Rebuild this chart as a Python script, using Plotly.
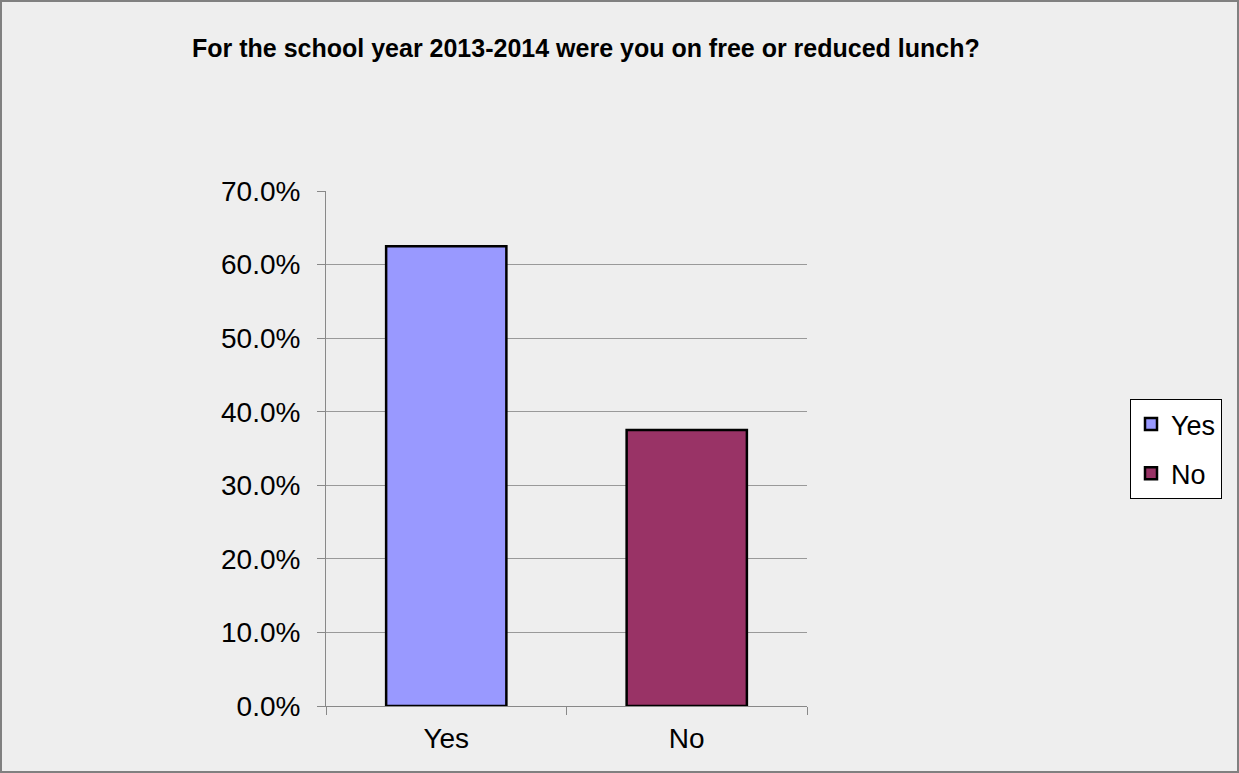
import plotly.graph_objects as go

categories = ["Yes", "No"]
shares = [0.625, 0.375]
colors = ["#9999FF", "#993366"]
y_ticks = [0.0, 0.1, 0.2, 0.3, 0.4, 0.5, 0.6, 0.7]

W, H = 1239, 773
L, R, T, B = 326, 807, 191, 706
PW, PH = R - L, B - T

fig = go.Figure()
for cat, val, col in zip(categories, shares, colors):
    fig.add_trace(go.Bar(
        x=[cat], y=[val], name=cat, width=0.5,
        marker=dict(color=col, line=dict(color="black", width=2.5)),
        legendgroup=cat,
    ))

font = "Liberation Sans, Arial, sans-serif"
fig.update_layout(
    width=W, height=H,
    margin=dict(l=L, r=W - R, t=T, b=H - B, pad=0),
    paper_bgcolor="#EEEEEE", plot_bgcolor="#EEEEEE",
    barmode="overlay",
    font=dict(family=font, size=28, color="black"),
    showlegend=True,
    legend=dict(
        x=(1130 - L) / PW, xanchor="left",
        y=(B - 399) / PH, yanchor="top",
        bgcolor="white", bordercolor="black", borderwidth=1,
        font=dict(size=27), traceorder="grouped", tracegroupgap=11,
        itemwidth=30,
    ),
    xaxis=dict(
        showline=True, linecolor="#888888", linewidth=1,
        ticks="outside", tickson="boundaries", ticklen=8, tickcolor="#888888",
        ticklabelstandoff=7,
        showgrid=False, tickfont=dict(size=28),
    ),
    yaxis=dict(
        range=[0, 0.7], tickvals=y_ticks, tickformat=".1%",
        showline=True, linecolor="#888888", linewidth=1,
        ticks="outside", ticklen=8, tickcolor="#888888",
        ticklabelstandoff=11,
        showgrid=True, gridcolor="#999999", gridwidth=1,
        zeroline=False, tickfont=dict(size=28),
    ),
    annotations=[dict(
        text="<b>For the school year 2013-2014 were you on free or reduced lunch?</b>",
        xref="paper", yref="paper",
        x=(586 - L) / PW, y=(B - 48) / PH,
        xanchor="center", yanchor="middle", showarrow=False,
        font=dict(size=25, family=font, color="black"),
    )],
    shapes=[dict(
        type="rect", xref="paper", yref="paper",
        x0=(-L + 1) / PW, x1=(W - L - 1) / PW,
        y0=(B - H + 1) / PH, y1=(B - 1) / PH,
        line=dict(color="#808080", width=2), layer="below",
    )],
)

fig.write_html("out.html")
